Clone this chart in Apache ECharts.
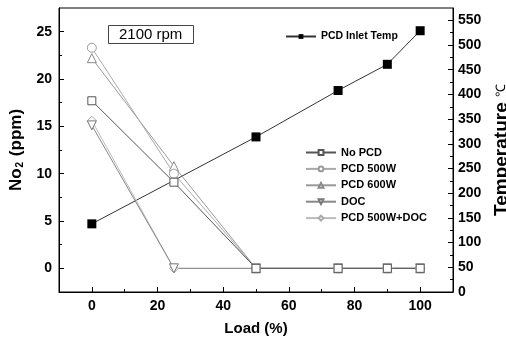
<!DOCTYPE html>
<html><head><meta charset="utf-8">
<script src="https://cdn.jsdelivr.net/npm/echarts@6/dist/echarts.min.js"></script>
<style>html,body{margin:0;padding:0;background:#fff}#c{width:506px;height:341px}</style>
</head><body><div id="c"></div>
<script>
const loads = [0, 25, 50, 75, 90, 100];
const tempLoads = [0, 50, 75, 90, 100];
const inletTemp = [138, 314, 408, 461, 529];
const noPCD = [17.7, 9.1, 0, 0, 0, 0];
const pcd500 = [23.3, 10.0, 0, 0, 0, 0];
const pcd600 = [22.2, 10.8, 0, 0, 0, 0];
const doc = [15.1, 0, 0, 0, 0, 0];
const pcd500doc = [15.6, 0, 0, 0, 0, 0];
const xTicks = [0, 20, 40, 60, 80, 100];
const xMinor = [10, 30, 50, 70, 90];
const yTicks = [0, 5, 10, 15, 20, 25];
const yMinor = [2.5, 7.5, 12.5, 17.5, 22.5];
const tTicks = [0, 50, 100, 150, 200, 250, 300, 350, 400, 450, 500, 550];
const tMinor = [25, 75, 125, 175, 225, 275, 325, 375, 425, 475, 525];

const FONT = 'Liberation Sans';
const pair = (xs, ys) => xs.map((x, i) => [x, ys[i]]);
const lbl = {fontFamily: FONT, fontWeight: 'bold', fontSize: 14, color: '#000'};

function hollow(name, data, symbol, stroke, lineColor, rotate) {
  return {
    name, type: 'line', xAxisIndex: 0, yAxisIndex: 0, data: pair(loads, data),
    symbol, symbolSize: symbol === 'rect' ? 8 : 9, symbolRotate: rotate || 0,
    lineStyle: {color: lineColor, width: 1},
    itemStyle: {color: '#fff', borderColor: stroke, borderWidth: 1},
    emphasis: {disabled: true}, z: 3
  };
}

const chart = echarts.init(document.getElementById('c'));
chart.setOption({
  animation: false,
  grid: {left: 59, right: 53, top: 8, bottom: 49, outerBoundsMode: 'none', containLabel: false,
         show: true, borderColor: '#000', borderWidth: 1, backgroundColor: 'transparent'},
  title: {
    text: '2100 rpm', left: 108, top: 25,
    padding: [2, 11, 2, 11], borderColor: '#444', borderWidth: 1,
    textStyle: {fontFamily: FONT, fontSize: 15, fontWeight: 'normal', color: '#000'}
  },
  legend: [
    {data: ['PCD Inlet Temp'], left: 280, top: 26, itemWidth: 30, itemHeight: 6, itemGap: 0,
     textStyle: {fontFamily: FONT, fontWeight: 'bold', fontSize: 10.5, color: '#000'}},
    {data: ['No PCD', 'PCD 500W', 'PCD 600W', 'DOC', 'PCD 500W+DOC'], orient: 'vertical',
     left: 300, top: 142, itemWidth: 30, itemHeight: 6, itemGap: 5.4,
     textStyle: {fontFamily: FONT, fontWeight: 'bold', fontSize: 11, color: '#000'}}
  ],
  xAxis: [
    {type: 'value', min: -10, max: 110, position: 'bottom',
     name: 'Load (%)', nameLocation: 'middle', nameGap: 29,
     nameTextStyle: {fontFamily: FONT, fontWeight: 'bold', fontSize: 15, color: '#000'},
     axisLine: {onZero: false, lineStyle: {color: '#000'}},
     axisTick: {inside: true, length: 5, customValues: xTicks, lineStyle: {color: '#000'}},
     axisLabel: Object.assign({customValues: xTicks, margin: 7}, lbl),
     splitLine: {show: false}},
    {type: 'value', min: -10, max: 110, position: 'bottom',
     axisLine: {show: false, onZero: false}, axisLabel: {show: false}, splitLine: {show: false},
     axisTick: {inside: true, length: 3, customValues: xMinor, lineStyle: {color: '#000'}}}
  ],
  yAxis: [
    {type: 'value', min: -2.5, max: 27.5, position: 'left',
     name: '{a|No}{s|2}{a| (ppm)}', nameLocation: 'middle', nameGap: 33,
     nameTextStyle: {rich: {
       a: {fontFamily: FONT, fontWeight: 'bold', fontSize: 17, color: '#000'},
       s: {fontFamily: FONT, fontWeight: 'bold', fontSize: 10, color: '#000', padding: [9, 1, 0, 1]}}},
     axisLine: {show: true, onZero: false, lineStyle: {color: '#000'}},
     axisTick: {inside: true, length: 5, customValues: yTicks, lineStyle: {color: '#000'}},
     axisLabel: Object.assign({customValues: yTicks, margin: 7}, lbl),
     splitLine: {show: false}},
    {type: 'value', min: 0, max: 575, position: 'right',
     name: 'Temperature {c|℃}', nameLocation: 'middle', nameGap: 34, nameRotate: 90,
     nameTextStyle: {fontFamily: FONT, fontWeight: 'bold', fontSize: 19, color: '#000',
       rich: {c: {fontFamily: FONT, fontWeight: 'normal', fontSize: 13, color: '#000'}}},
     axisLine: {show: true, onZero: false, lineStyle: {color: '#000'}},
     axisTick: {inside: true, length: 5, customValues: tTicks, lineStyle: {color: '#000'}},
     axisLabel: Object.assign({customValues: tTicks, margin: 5}, lbl),
     splitLine: {show: false}},
    {type: 'value', min: -2.5, max: 27.5, position: 'left',
     axisLine: {show: false, onZero: false}, axisLabel: {show: false}, splitLine: {show: false},
     axisTick: {show: true, inside: true, length: 3, customValues: yMinor, lineStyle: {color: '#000'}}},
    {type: 'value', min: 0, max: 575, position: 'right',
     axisLine: {show: false, onZero: false}, axisLabel: {show: false}, splitLine: {show: false},
     axisTick: {show: true, inside: true, length: 3, customValues: tMinor, lineStyle: {color: '#000'}}}
  ],
  series: [
    {name: 'PCD Inlet Temp', type: 'line', xAxisIndex: 0, yAxisIndex: 1, data: pair(tempLoads, inletTemp),
     symbol: 'rect', symbolSize: 9, lineStyle: {color: '#333', width: 1},
     itemStyle: {color: '#000'}, emphasis: {disabled: true}, z: 2},
    hollow('PCD 500W+DOC', pcd500doc, 'diamond', '#aaa', '#bbb'),
    hollow('DOC', doc, 'triangle', '#777', '#888', 180),
    hollow('PCD 600W', pcd600, 'triangle', '#888', '#999'),
    hollow('PCD 500W', pcd500, 'circle', '#999', '#aaa'),
    hollow('No PCD', noPCD, 'rect', '#555', '#555')
  ]
});
</script></body></html>
